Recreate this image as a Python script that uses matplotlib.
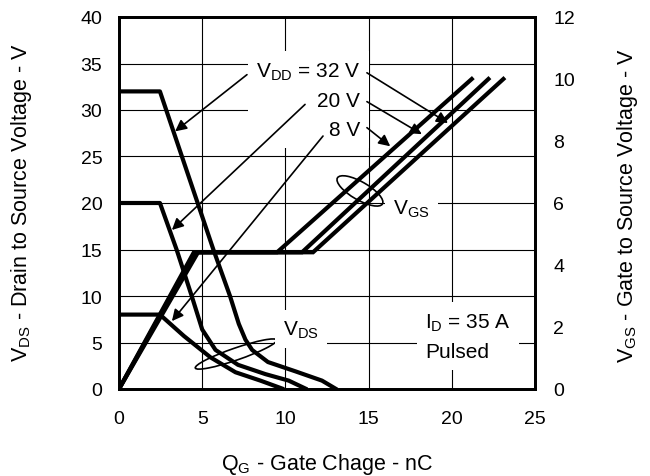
import matplotlib
matplotlib.use('Agg')
import matplotlib.pyplot as plt
from matplotlib.patches import Ellipse
from matplotlib.transforms import ScaledTranslation

plt.rcParams['font.family'] = ['Liberation Sans', 'DejaVu Sans']
plt.rcParams['mathtext.fontset'] = 'custom'
plt.rcParams['mathtext.rm'] = 'Liberation Sans'

# VDS curves (left axis), gate charge in nC
q_vds_32 = [0, 2.46, 5.67, 6.67, 7.2, 7.6, 8.0, 8.95, 10.6, 12.2, 13.0]
vds_32 = [32, 32, 15, 10, 7.0, 5.3, 4.2, 2.9, 1.9, 0.9, 0.05]
q_vds_20 = [0, 2.46, 3.46, 4.37, 5.0, 5.8, 7.15, 8.8, 10.2, 11.2]
vds_20 = [20, 20, 15, 10, 6.4, 4.2, 2.6, 1.6, 0.9, 0.05]
q_vds_8 = [0, 2.46, 3.9, 5.5, 7.0, 8.5, 9.8]
vds_8 = [8, 8, 5.7, 3.4, 1.8, 0.9, 0.05]

# VGS curves (right axis)
q_vgs_8 = [0, 4.5, 9.5, 21.2]
q_vgs_20 = [0, 4.6, 11.0, 22.2]
q_vgs_32 = [0, 4.75, 11.66, 23.1]
vgs = [0, 4.41, 4.41, 10.0]

x_ticks = [0, 5, 10, 15, 20, 25]
vds_ticks = [0, 5, 10, 15, 20, 25, 30, 35, 40]
vgs_ticks = [0, 2, 4, 6, 8, 10, 12]

fig = plt.figure(figsize=(6.5, 4.77), dpi=100)
ax = fig.add_axes([119/650, 1 - 390/477, 416/650, 372/477])
ax2 = ax.twinx()
ax.set_zorder(ax2.get_zorder() + 1)
ax.patch.set_visible(False)

lw = 3.0
ax2.plot(q_vgs_8, vgs, color='black', lw=lw, solid_joinstyle='miter')
ax2.plot(q_vgs_20, vgs, color='black', lw=lw, solid_joinstyle='miter')
ax2.plot(q_vgs_32, vgs, color='black', lw=lw, solid_joinstyle='miter')
ax.plot(q_vds_32, vds_32, color='black', lw=lw)
ax.plot(q_vds_20, vds_20, color='black', lw=lw)
ax.plot(q_vds_8, vds_8, color='black', lw=lw)

ax.set_xlim(0, 25)
ax.set_ylim(0, 40)
ax2.set_ylim(0, 12)
ax.set_xticks(x_ticks)
ax.set_yticks(vds_ticks)
ax2.set_yticks(vgs_ticks)
ax.grid(True, color='black', lw=0.8)
ax.tick_params(axis='both', length=0, labelsize=14)
ax.tick_params(axis='y', pad=12)
ax.tick_params(axis='x', pad=15)
ax2.tick_params(axis='y', length=0, labelsize=14, pad=13)
for a in (ax, ax2):
    for s in a.spines.values():
        s.set_linewidth(2)

fs = 15
box = dict(facecolor='white', edgecolor='none', pad=6)

ax.text(14.5, 31.1, '$\\mathregular{V_{DD}}$ = 32 V\n20 V\n8 V', ha='right', va='center',
        multialignment='right', fontsize=fs, linespacing=1.65, bbox=box, zorder=3)

arrow = dict(arrowstyle='-|>', color='black', lw=1.2, mutation_scale=17, shrinkA=0, shrinkB=0)
ax.annotate('', xy=(3.37, 27.7), xytext=(7.69, 33.8), arrowprops=arrow, zorder=4)
ax.annotate('', xy=(3.18, 17.1), xytext=(11.18, 30.6), arrowprops=arrow, zorder=4)
ax.annotate('', xy=(3.18, 7.3), xytext=(12.26, 27.2), arrowprops=arrow, zorder=4)
ax.annotate('', xy=(19.77, 28.6), xytext=(14.9, 34.0), arrowprops=arrow, zorder=4)
ax.annotate('', xy=(18.2, 27.4), xytext=(14.9, 30.9), arrowprops=arrow, zorder=4)
ax.annotate('', xy=(16.3, 26.1), xytext=(14.9, 28.1), arrowprops=arrow, zorder=4)

ax.text(16.47, 19.4, '$\\mathregular{V_{GS}}$', ha='left', va='center', fontsize=fs,
        bbox=box, zorder=3)
ax.text(9.86, 6.45, '$\\mathregular{V_{DS}}$', ha='left', va='center', fontsize=fs,
        bbox=box, zorder=3)
ax.text(18.4, 5.65, '$\\mathregular{I_{D}}$ = 35 A\nPulsed', ha='left', va='center',
        fontsize=fs, linespacing=1.65, bbox=box, zorder=3)

# ellipses grouping the curves (sizes in inches)
e1 = Ellipse((0, 0), 0.52, 0.18, angle=-30, fill=False, lw=1.2, color='black',
             transform=fig.dpi_scale_trans + ScaledTranslation(14.48, 21.3, ax.transData))
e2 = Ellipse((0, 0), 0.86, 0.12, angle=19, fill=False, lw=1.2, color='black',
             transform=fig.dpi_scale_trans + ScaledTranslation(7.03, 3.76, ax.transData))
ax.add_patch(e1)
ax.add_patch(e2)
ax.set_xlim(0, 25)
ax.set_ylim(0, 40)

fig.text(22/650, 1 - 203/477, '$\\mathregular{V_{DS}}$ - Drain to Source Voltage - V',
         rotation=90, ha='center', va='center', fontsize=15.5)
fig.text(627/650, 1 - 206/477, '$\\mathregular{V_{GS}}$ - Gate to Source Voltage - V',
         rotation=90, ha='center', va='center', fontsize=15.5)
fig.text(327/650, 1 - 465/477, '$\\mathregular{Q_{G}}$ - Gate Chage - nC',
         ha='center', va='center', fontsize=15.5)

fig.savefig('out.png', dpi=100)
